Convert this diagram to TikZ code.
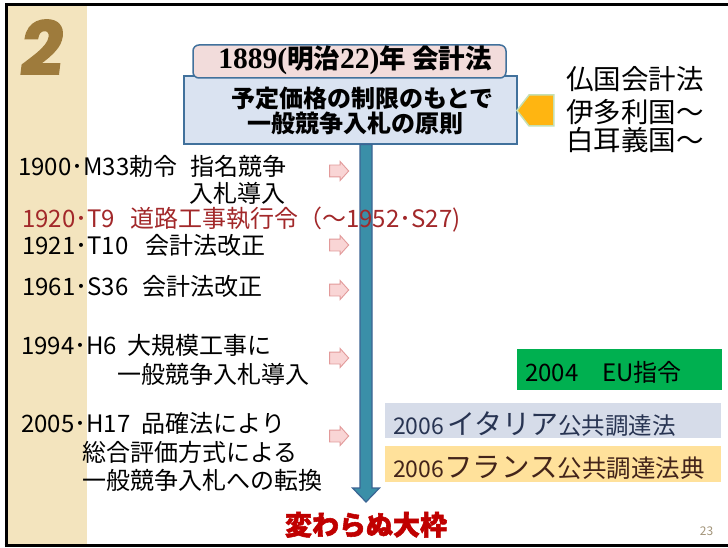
\documentclass[tikz,border=0pt]{standalone}
\usepackage{fontspec}
\usetikzlibrary{shapes.arrows,calc}
\newfontfamily\jp{Noto Sans CJK JP}
\newfontfamily\jpheavy{Noto Sans CJK JP}[FakeBold=2]
\newfontfamily\tnr{Liberation Serif}
\newfontfamily\logofont{Poppins}[FakeSlant=0.12,FakeBold=2]
\definecolor{beige}{HTML}{F3E4BE}
\definecolor{logobrown}{HTML}{9E7B3C}
\definecolor{pinkfill}{HTML}{F2DCDB}
\definecolor{boxedge}{HTML}{41719C}
\definecolor{bluefill}{HTML}{DAE3F1}
\definecolor{arrowteal}{HTML}{3A8FA8}
\definecolor{arrowedge}{HTML}{3C6594}
\definecolor{parrowfill}{HTML}{F9D5D5}
\definecolor{parrowedge}{HTML}{E29A9A}
\definecolor{orangefill}{HTML}{FFB511}
\definecolor{greenedge}{HTML}{C5DFB3}
\definecolor{darkred}{HTML}{A2282A}
\definecolor{eugreen}{HTML}{00B050}
\definecolor{italyfill}{HTML}{D6DCE9}
\definecolor{italytext}{HTML}{283452}
\definecolor{francefill}{HTML}{FFE19B}
\definecolor{francetext}{HTML}{43241A}
\definecolor{bigred}{HTML}{C00000}
\definecolor{pagenum}{HTML}{A3957A}
\begin{document}
\begin{tikzpicture}[x=1pt,y=-1pt,
  item/.style={anchor=base west, inner sep=0pt, font=\jp\fontsize{24}{24}\selectfont},
  boldtext/.style={anchor=base, inner sep=0pt, font=\jp\bfseries\fontsize{24}{24}\selectfont},
  righttext/.style={anchor=base west, inner sep=0pt, font=\jp\fontsize{27.5}{27.5}\selectfont},
  pinkarrow/.style={single arrow, draw=parrowedge, fill=parrowfill, line width=0.9pt,
    minimum height=19pt, text height=5.5pt, text depth=5.5pt, text width=0pt,
    single arrow head extend=3.5pt, single arrow tip angle=96, inner sep=0pt},
  mainarrow/.style={fill=arrowteal, draw=arrowedge, line width=1.2pt},
  flatbox/.style={anchor=north west, inner sep=0pt, draw=none}
]
\useasboundingbox (0,0) rectangle (728,548);
\fill[white] (0,0) rectangle (728,548);
% side strip and frame
\fill[beige] (7,5) rectangle (87,544);
\draw[line width=3pt] (6,547) -- (6,4.5) -- (728,4.5);
\draw[line width=3pt] (4.5,545.5) -- (728,545.5);
% logo
\node[anchor=base west, inner sep=0pt, text=logobrown,
  font=\logofont\bfseries\fontsize{74}{74}\selectfont] (logo) at (18,75) {2};
% main boxes
\node[draw=boxedge, line width=1.5pt, fill=bluefill, minimum width=333pt,
  minimum height=68pt, inner sep=0pt] (principle) at (350.5,110) {};
\node[draw=boxedge, line width=1.5pt, fill=pinkfill, rounded corners=6pt,
  minimum width=313pt, minimum height=33pt, inner sep=0pt] (title) at (349.5,61.5) {};
\node[anchor=base, inner sep=0pt] (titletext) at (355,69)
  {\tnr\bfseries\fontsize{29.5}{29.5}\selectfont 1889(\jp\bfseries\fontsize{26.5}{26.5}\selectfont 明治\tnr\bfseries\fontsize{29.5}{29.5}\selectfont 22)\jp\bfseries\fontsize{26.5}{26.5}\selectfont 年 会計法};
\node[boldtext] (p1) at (362.5,108) {予定価格の制限のもとで};
\node[boldtext] (p2) at (355.5,133) {一般競争入札の原則};
% main arrow
\coordinate (atop) at (366,144.5);
\coordinate (abot) at (366,502);
\draw[mainarrow] ($(atop)+(-6,0)$) -- ($(abot)+(-6,-14)$) -- ($(abot)+(-13.5,-14)$)
  -- (abot) -- ($(abot)+(13.5,-14)$) -- ($(abot)+(6,-14)$) -- ($(atop)+(6,0)$) -- cycle;
% orange pointer and foreign laws
\node[single arrow, shape border rotate=180, fill=orangefill, draw=greenedge, line width=1.5pt,
  minimum height=37pt, minimum width=31pt, single arrow head extend=0pt,
  single arrow tip angle=104, inner sep=0pt] (pointer) at (541.5,110.5) {};
\node[righttext] (rt1) at (566,90) {仏国会計法};
\node[righttext] (rt2) at (566,123) {伊多利国～};
\node[righttext] (rt3) at (566,151) {白耳義国～};
% small arrows
\node[pinkarrow] (pa1) at (336.5,171) {};
\node[pinkarrow] (pa2) at (336.5,245) {};
\node[pinkarrow] (pa3) at (336.5,290) {};
\node[pinkarrow] (pa4) at (336.5,358) {};
\node[pinkarrow] (pa5) at (336.5,436) {};
% timeline items
\node[item] (i1) at (18,176) {1900･M33勅令\hspace{13pt}指名競争};
\node[item] (i1b) at (189,203) {入札導入};
\node[item, text=darkred] (i2) at (22,228) {1920･T9\hspace{15pt}道路工事執行令（～1952･S27)};
\node[item] (i3) at (22,254) {1921･T10\hspace{17pt}会計法改正};
\node[item] (i4) at (22,295) {1961･S36\hspace{14pt}会計法改正};
\node[item] (i5) at (21,354) {1994･H6\hspace{10pt}大規模工事に};
\node[item] (i5b) at (117,383) {一般競争入札導入};
\node[item] (i6) at (21,432) {2005･H17\hspace{11pt}品確法により};
\node[item] (i6b) at (82,461) {総合評価方式による};
\node[item] (i6c) at (82,489) {一般競争入札への転換};
% European directives
\node[flatbox, fill=eugreen, minimum width=205pt, minimum height=41pt] (eubox) at (517,349) {};
\node[item] (eutext) at (525,381) {2004　EU指令};
\node[flatbox, fill=italyfill, minimum width=336pt, minimum height=35pt] (itbox) at (385,403) {};
\node[item, text=italytext, font=\jp] (ittext) at (393,434)
  {\fontsize{23}{23}\selectfont 2006\hspace{3pt}\fontsize{28}{28}\selectfont イタリア\fontsize{23.5}{23.5}\selectfont 公共調達法};
\node[flatbox, fill=francefill, minimum width=336pt, minimum height=36pt] (frbox) at (385,446) {};
\node[item, text=francetext, font=\jp] (frtext) at (393,477)
  {\fontsize{23}{23}\selectfont 2006\fontsize{28.5}{28.5}\selectfont フランス\fontsize{24.5}{24.5}\selectfont 公共調達法典};
% conclusion and page number
\node[anchor=base, inner sep=0pt, text=bigred, font=\jpheavy\bfseries\fontsize{27}{27}\selectfont] (frame) at (366,535) {変わらぬ大枠};
\node[anchor=base, inner sep=0pt, text=pagenum, font=\jp\fontsize{12}{12}\selectfont] (pnum) at (706.5,535) {23};
\end{tikzpicture}
\end{document}
